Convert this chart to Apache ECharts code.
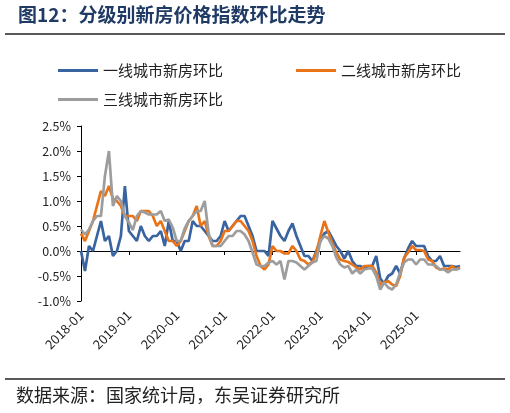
<!DOCTYPE html>
<html>
<head>
<meta charset="utf-8">
<script src="https://cdn.jsdelivr.net/npm/echarts@6/dist/echarts.min.js"></script>
<style>
html,body{margin:0;padding:0;background:#fff;}
#chart{width:510px;height:413px;}
</style>
</head>
<body>
<div id="chart"></div>
<script>
// 2018-01 .. 2025-12
var months = [];
for (var y = 2018; y <= 2025; y++) {
	for (var m = 1; m <= 12; m++) {
		months.push(y + '-' + (m < 10 ? '0' + m : m));
	}
}

var names = ['一线城市新房环比', '二线城市新房环比', '三线城市新房环比'];
var colors = ['#3a64a0', '#ea7317', '#9d9d9d'];

var tier1 = [
	0.0, -0.4, 0.1, 0.0, 0.3, 0.6, 0.2, 0.3, -0.1, 0.0, 0.3, 1.3,
	0.4, 0.3, 0.2, 0.5, 0.3, 0.2, 0.3, 0.3, 0.4, 0.1, 0.6, 0.2,
	0.2, 0.0, 0.2, 0.2, 0.6, 0.5, 0.5, 0.4, 0.3, 0.2, 0.2, 0.3,
	0.6, 0.4, 0.5, 0.6, 0.7, 0.7, 0.5, 0.3, 0.0, 0.0, 0.0, -0.1,
	0.6, 0.45, 0.3, 0.2, 0.4, 0.55, 0.3, 0.1, -0.1, -0.1, -0.2, 0.0,
	0.2, 0.35, 0.4, 0.25, 0.1, 0.0, -0.15, 0.0, -0.2, -0.3, -0.3, -0.35,
	-0.3, -0.3, -0.1, -0.55, -0.65, -0.5, -0.45, -0.3, -0.45, -0.15, 0.05, 0.2,
	0.1, 0.1, 0.1, -0.1, -0.2, -0.2, -0.1, -0.3, -0.3, -0.3, -0.32, -0.3
];
var tier2 = [
	0.35, 0.2, 0.4, 0.6, 0.9, 1.2, 1.1, 1.3, 1.05, 1.0, 0.9, 0.7,
	0.7, 0.7, 0.6, 0.8, 0.8, 0.8, 0.7, 0.5, 0.6, 0.4, 0.2, 0.2,
	0.1, 0.2, 0.4, 0.6, 0.7, 0.9, 0.5, 0.6, 0.3, 0.1, 0.1, 0.2,
	0.4, 0.4, 0.5, 0.6, 0.6, 0.5, 0.4, 0.2, -0.1, -0.3, -0.37, -0.27,
	0.1, 0.0, 0.0, -0.05, -0.05, 0.1, 0.0, -0.17, -0.2, -0.27, -0.22, -0.03,
	0.3, 0.6, 0.37, 0.15, -0.03, -0.17, -0.2, -0.22, -0.27, -0.33, -0.37, -0.3,
	-0.3, -0.3, -0.43, -0.67, -0.63, -0.6, -0.67, -0.7, -0.5, -0.13, -0.03, 0.1,
	0.02, 0.02, 0.0, -0.17, -0.2, -0.33, -0.37, -0.35, -0.37, -0.3, -0.37, -0.33
];
var tier3 = [
	0.43, 0.33, 0.43, 0.6, 0.7, 0.7, 1.5, 2.0, 0.9, 1.1, 1.0, 0.7,
	0.57, 0.42, 0.7, 0.8, 0.77, 0.73, 0.73, 0.73, 0.8, 0.6, 0.63, 0.47,
	0.2, 0.2, 0.45, 0.6, 0.7, 0.8, 0.8, 1.0, 0.35, 0.1, 0.1, 0.1,
	0.2, 0.3, 0.3, 0.4, 0.4, 0.33, 0.2, -0.03, -0.27, -0.3, -0.3, -0.23,
	-0.2, -0.27, -0.2, -0.57, -0.2, -0.2, -0.23, -0.3, -0.37, -0.3, -0.23, -0.2,
	0.2, 0.3, 0.25, 0.1, -0.13, -0.27, -0.33, -0.3, -0.45, -0.37, -0.45, -0.37,
	-0.35, -0.35, -0.5, -0.77, -0.63, -0.73, -0.77, -0.67, -0.43, -0.23, -0.17, -0.17,
	-0.27, -0.17, -0.17, -0.27, -0.27, -0.3, -0.37, -0.37, -0.43, -0.37, -0.37, -0.35
];

var cjk = '"Noto Sans CJK SC", "Noto Sans", sans-serif';

function getSeries(list) {
	var arr = [];
	for (var i = 0; i < list.length; i++) {
		arr.push({
			name: names[i],
			type: 'line',
			xAxisIndex: 0,
			data: list[i],
			symbol: 'none',
			lineStyle: { width: 2.7, color: colors[i] },
			itemStyle: { color: colors[i] }
		});
	}
	return arr;
}

var legendStyle = {
	icon: 'rect',
	itemWidth: 40,
	itemHeight: 3,
	itemGap: 73,
	textStyle: { fontSize: 15, color: '#222', fontFamily: cjk }
};

var option = {
	animation: false,
	color: colors,
	textStyle: { fontFamily: cjk },
	legend: [
		Object.assign({ data: [names[0], names[1]], left: 53, top: 58 }, legendStyle),
		Object.assign({ data: [names[2]], left: 53, top: 87 }, legendStyle)
	],
	grid: { left: 81, right: 50, top: 126, bottom: 112 },
	xAxis: [{
		type: 'category',
		data: months,
		boundaryGap: false,
		axisLine: { show: false, onZero: false },
		axisTick: { show: false },
		axisLabel: { interval: 11, rotate: 45, fontSize: 13, color: '#222', margin: 12 }
	}, {
		type: 'category',
		data: months,
		boundaryGap: false,
		position: 'bottom',
		axisLine: { show: true, onZero: true, lineStyle: { color: '#000', width: 1.2 } },
		axisTick: { show: true, interval: 11, length: 4, lineStyle: { color: '#000' } },
		axisLabel: { show: false }
	}],
	yAxis: {
		type: 'value',
		min: -1,
		max: 2.5,
		interval: 0.5,
		splitLine: { show: false },
		axisLine: { show: true, lineStyle: { color: '#000' } },
		axisTick: { show: true, length: 4, lineStyle: { color: '#000' } },
		axisLabel: {
			fontSize: 12.5, color: '#222', margin: 10,
			formatter: function (v) { return v.toFixed(1) + '%'; }
		}
	},
	series: getSeries([tier1, tier2, tier3]),
	graphic: [
		{ type: 'text', left: 18, top: 5, style: { text: '图12：分级别新房价格指数环比走势', fontSize: 19, fontWeight: 'bold', fill: '#1f3a64', fontFamily: cjk } },
		{ type: 'line', shape: { x1: 5, y1: 34, x2: 505, y2: 34 }, style: { stroke: '#222', lineWidth: 1.5 } },
		{ type: 'line', shape: { x1: 5, y1: 379, x2: 505, y2: 379 }, style: { stroke: '#222', lineWidth: 1.5 } },
		{ type: 'text', left: 16, top: 386, style: { text: '数据来源：国家统计局，东吴证券研究所', fontSize: 18, fill: '#222', fontFamily: cjk } }
	]
};

var myChart = echarts.init(document.getElementById('chart'));
myChart.setOption(option);
</script>
</body>
</html>
